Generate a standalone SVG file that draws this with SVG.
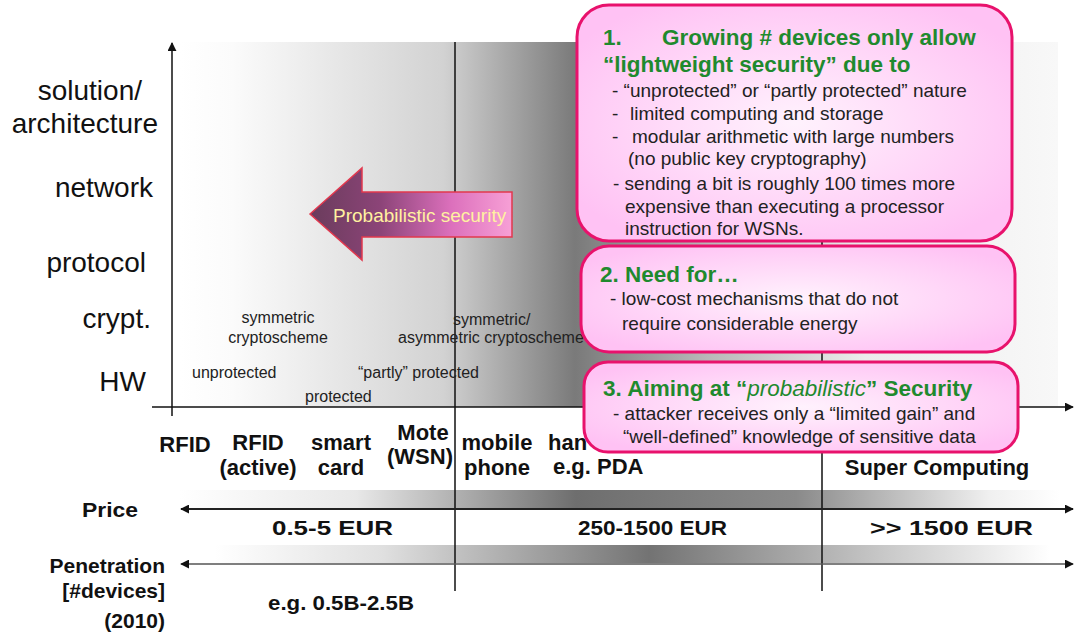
<svg xmlns="http://www.w3.org/2000/svg" width="1075" height="633" viewBox="0 0 1075 633">
<style>
text{font-family:"Liberation Sans",Arial,sans-serif;fill:#111}
.ax{font-size:28px}
.dev{font-size:22px;font-weight:bold}
.row{font-size:21px;font-weight:bold}
.lab{font-size:16px;fill:#222}
.gt{font-size:22.5px;font-weight:bold;fill:#1f8a2e}
.bt{font-size:19px;fill:#222}
.box{fill:url(#boxg);stroke:#e8126c;stroke-width:3}
.ln{stroke:#111;stroke-width:1.5;fill:none}
</style>
<defs>
<linearGradient id="bg" x1="180" y1="0" x2="1058" y2="0" gradientUnits="userSpaceOnUse">
<stop offset="0" stop-color="#ffffff"/>
<stop offset="0.06" stop-color="#fbfbfb"/>
<stop offset="0.3" stop-color="#d2d2d2"/>
<stop offset="0.45" stop-color="#7a7a7a"/>
<stop offset="0.6" stop-color="#b8b8b8"/>
<stop offset="0.78" stop-color="#ececec"/>
<stop offset="1" stop-color="#f8f8f8"/>
</linearGradient>
<linearGradient id="pg" x1="180" y1="0" x2="1060" y2="0" gradientUnits="userSpaceOnUse">
<stop offset="0" stop-color="#ffffff"/>
<stop offset="0.2" stop-color="#e8e8e8"/>
<stop offset="0.45" stop-color="#6e6e6e"/>
<stop offset="0.7" stop-color="#8a8a8a"/>
<stop offset="0.92" stop-color="#f0f0f0"/>
<stop offset="1" stop-color="#ffffff"/>
</linearGradient>
<linearGradient id="ng" x1="215" y1="0" x2="1050" y2="0" gradientUnits="userSpaceOnUse">
<stop offset="0" stop-color="#ffffff"/>
<stop offset="0.2" stop-color="#e0e0e0"/>
<stop offset="0.52" stop-color="#737373"/>
<stop offset="0.8" stop-color="#c8c8c8"/>
<stop offset="1" stop-color="#ffffff"/>
</linearGradient>
<radialGradient id="boxg" cx="0.5" cy="0.5" r="0.6">
<stop offset="0" stop-color="#fff2fd"/>
<stop offset="1" stop-color="#ffc2f4"/>
</radialGradient>
<linearGradient id="arg" x1="0" y1="0" x2="1" y2="0">
<stop offset="0" stop-color="#6a3c5c"/>
<stop offset="0.35" stop-color="#8c4478"/>
<stop offset="0.7" stop-color="#dc70bc"/>
<stop offset="1" stop-color="#f7a0d6"/>
</linearGradient>
<marker id="ah" viewBox="0 0 10 10" refX="9" refY="5" markerWidth="9" markerHeight="9" markerUnits="userSpaceOnUse" orient="auto-start-reverse">
<path d="M0,0 L10,5 L0,10 Z" fill="#111"/>
</marker>
</defs>
<rect width="1075" height="633" fill="#ffffff"/>
<g id="background">
<rect x="180" y="42" width="878" height="365" fill="url(#bg)"/>
<rect x="180" y="490" width="880" height="18" fill="url(#pg)"/>
<rect x="215" y="545" width="835" height="18" fill="url(#ng)"/>
</g>
<g id="connectors">
<line class="ln" x1="172" y1="416" x2="172" y2="43" marker-end="url(#ah)"/>
<line class="ln" x1="152" y1="407" x2="1073" y2="407" marker-end="url(#ah)"/>
<line class="ln" x1="455" y1="42" x2="455" y2="591" stroke-width="1.2"/>
<line class="ln" x1="822" y1="42" x2="822" y2="591" stroke-width="1.2"/>
<line x1="181" y1="509" x2="1073" y2="509" stroke="#222" stroke-width="2.2" marker-start="url(#ah)" marker-end="url(#ah)"/>
<line x1="181" y1="564" x2="1073" y2="564" stroke="#555" stroke-width="1.5" marker-start="url(#ah)" marker-end="url(#ah)"/>
</g>
<g id="axis-labels">
<text class="ax" x="142" y="100" text-anchor="end">solution/</text>
<text class="ax" x="158" y="133" text-anchor="end">architecture</text>
<text class="ax" x="153" y="197" text-anchor="end">network</text>
<text class="ax" x="146" y="272" text-anchor="end">protocol</text>
<text class="ax" x="151" y="328" text-anchor="end">crypt.</text>
<text class="ax" x="146" y="391" text-anchor="end">HW</text>
</g>
<g id="plot-labels">
<text class="lab" x="278" y="323" text-anchor="middle">symmetric</text>
<text class="lab" x="278" y="343" text-anchor="middle">cryptoscheme</text>
<text class="lab" x="453" y="325">symmetric/</text>
<text class="lab" x="398" y="343">asymmetric cryptoscheme</text>
<text class="lab" x="192" y="378">unprotected</text>
<text class="lab" x="358" y="378">“partly” protected</text>
<text class="lab" x="305" y="402">protected</text>
</g>
<g id="security-arrow">
<path d="M310,214 L362,168 L362,192 L512,192 L512,237 L362,237 L362,260 Z" fill="url(#arg)" stroke="#e2384e" stroke-width="1.5"/>
<text x="333" y="222" font-size="19" style="fill:#fff1a0">Probabilistic security</text>
</g>
<g id="devices">
<text class="dev" x="185" y="452" text-anchor="middle">RFID</text>
<text class="dev" x="258" y="450" text-anchor="middle">RFID</text>
<text class="dev" x="258" y="475" text-anchor="middle">(active)</text>
<text class="dev" x="341" y="450" text-anchor="middle">smart</text>
<text class="dev" x="341" y="475" text-anchor="middle">card</text>
<text class="dev" x="423" y="440" text-anchor="middle">Mote</text>
<text class="dev" x="420" y="464" text-anchor="middle">(WSN)</text>
<text class="dev" x="497" y="450" text-anchor="middle">mobile</text>
<text class="dev" x="497" y="475" text-anchor="middle">phone</text>
<text class="dev" x="548" y="450">han</text>
<text class="dev" x="553" y="474">e.g. PDA</text>
<text class="dev" x="937" y="475" text-anchor="middle">Super Computing</text>
</g>
<g id="price-row">
<text class="row" x="82" y="517" textLength="56" lengthAdjust="spacingAndGlyphs">Price</text>
<text class="row" x="272" y="535" textLength="121" lengthAdjust="spacingAndGlyphs">0.5-5 EUR</text>
<text class="row" x="578" y="535" textLength="149" lengthAdjust="spacingAndGlyphs">250-1500 EUR</text>
<text class="row" x="870" y="535" textLength="163" lengthAdjust="spacingAndGlyphs">&gt;&gt; 1500 EUR</text>
</g>
<g id="penetration-row">
<text class="row" x="165" y="573" text-anchor="end">Penetration</text>
<text class="row" x="165" y="598" text-anchor="end">[#devices]</text>
<text class="row" x="165" y="628" text-anchor="end">(2010)</text>
<text class="row" x="268" y="610" textLength="146" lengthAdjust="spacingAndGlyphs">e.g. 0.5B-2.5B</text>
</g>
<g id="box1">
<rect class="box" x="577" y="5" width="435" height="236" rx="32"/>
<text class="gt" x="603" y="45">1.<tspan x="662">Growing # devices only allow</tspan></text>
<text class="gt" x="603" y="72">“lightweight security” due to</text>
<text class="bt" x="612" y="97">- “unprotected” or “partly protected” nature</text>
<text class="bt" x="612" y="120">-<tspan x="630">limited computing and storage</tspan></text>
<text class="bt" x="612" y="143">-<tspan x="632">modular arithmetic with large numbers</tspan></text>
<text class="bt" x="628" y="165">(no public key cryptography)</text>
<text class="bt" x="613" y="190">- sending a bit is roughly 100 times more</text>
<text class="bt" x="625" y="213">expensive than executing a processor</text>
<text class="bt" x="625" y="235">instruction for WSNs.</text>
</g>
<g id="box2">
<rect class="box" x="581" y="246" width="434" height="106" rx="28"/>
<text class="gt" x="600" y="282">2. Need for…</text>
<text class="bt" x="610" y="305">- low-cost mechanisms that do not</text>
<text class="bt" x="622" y="330">require considerable energy</text>
</g>
<g id="box3">
<rect class="box" x="584" y="362" width="434" height="90" rx="24"/>
<text class="gt" x="603" y="396">3. Aiming at “<tspan font-style="italic" font-weight="normal">probabilistic</tspan>” Security</text>
<text class="bt" x="613" y="420">- attacker receives only a “limited gain” and</text>
<text class="bt" x="623" y="443">“well-defined” knowledge of sensitive data</text>
</g>
</svg>
